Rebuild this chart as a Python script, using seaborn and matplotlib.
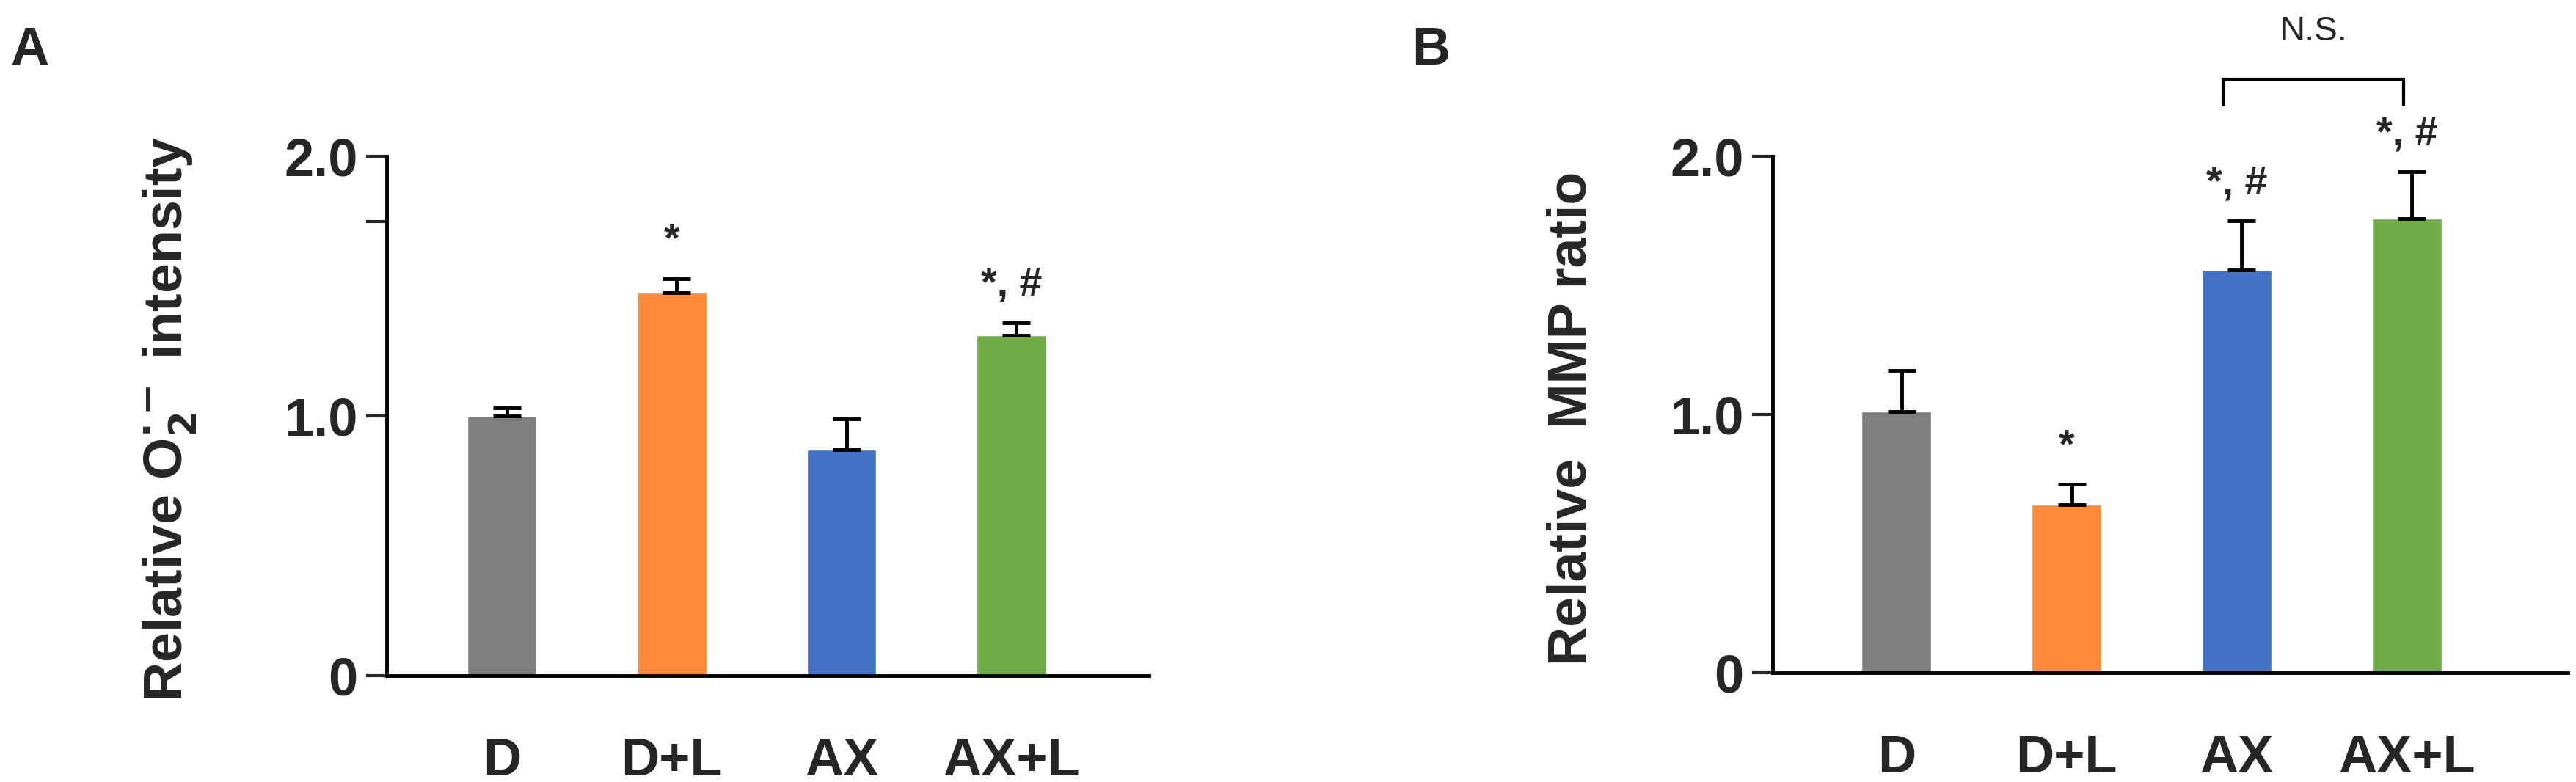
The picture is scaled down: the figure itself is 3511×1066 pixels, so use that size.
import matplotlib
matplotlib.use("Agg")
import matplotlib.pyplot as plt
import seaborn as sns
import pandas as pd
from matplotlib import font_manager

categories = ["D", "D+L", "AX", "AX+L"]
colors = ["#7f7f7f", "#ff8a3a", "#4472c4", "#70ad47"]
a_values = [1.00, 1.475, 0.87, 1.31]
a_errors = [0.03, 0.055, 0.12, 0.05]
a_marks = ["", "*", "", "*, #"]
b_values = [1.01, 0.65, 1.56, 1.76]
b_errors = [0.16, 0.08, 0.19, 0.18]
b_marks = ["", "*", "*, #", "*, #"]

sns.set_style("white")
names = {f.name for f in font_manager.fontManager.ttflist}
narrow = "Liberation Sans Narrow" if "Liberation Sans Narrow" in names else "Liberation Sans"
plt.rcParams["font.family"] = ["Liberation Sans", "DejaVu Sans"]
plt.rcParams["mathtext.default"] = "bf"

fig = plt.figure(figsize=(35.11, 10.66), dpi=100)
axA = fig.add_axes([0.150, 0.136, 0.296, 0.664])
axB = fig.add_axes([0.688, 0.140, 0.309, 0.660])

def draw(ax, vals, errs, marks, xlim, extra_tick=None):
    df = pd.DataFrame({"g": categories, "v": vals})
    sns.barplot(data=df, x="g", y="v", hue="g", palette=colors, width=0.41,
                ax=ax, legend=False, saturation=1)
    for i, (v, e) in enumerate(zip(vals, errs)):
        ax.errorbar(i + 0.03, v, yerr=[[0], [e]], fmt="none", ecolor="black",
                    elinewidth=3.5, capsize=14, capthick=3.5)
        if marks[i]:
            ax.text(i, v + e + 0.07, marks[i], ha="center", va="bottom",
                    fontsize=40, fontweight="bold", family=narrow)
    ax.set_xlim(*xlim)
    ax.set_ylim(0, 2.0)
    ax.set_yticks([0, 1.0, 2.0])
    ax.set_yticklabels(["0", "1.0", "2.0"], fontsize=52, fontweight="bold", family=narrow)
    if extra_tick is not None:
        ax.set_yticks([extra_tick], minor=True)
        ax.tick_params(axis="y", which="minor", length=20, width=3, direction="out", left=True)
    ax.tick_params(axis="y", which="major", length=20, width=3, direction="out", left=True, pad=8)
    ax.tick_params(axis="x", length=0, pad=60)
    for lab in ax.get_xticklabels():
        lab.set_fontsize(52); lab.set_fontweight("bold"); lab.set_family(narrow)
    ax.set_xlabel(""); ax.set_ylabel("")
    sns.despine(ax=ax)
    for s in ["left", "bottom"]:
        ax.spines[s].set_linewidth(3.5); ax.spines[s].set_color("black")

draw(axA, a_values, a_errors, a_marks, (-0.68, 3.81), extra_tick=1.75)
draw(axB, b_values, b_errors, b_marks, (-0.73, 3.95))

fig.text(0.066, 0.465, r"Relative O$_2^{\cdot-}$ intensity", rotation=90, ha="center",
         va="center", fontsize=53, fontweight="bold")
fig.text(0.610, 0.465, "Relative  MMP ratio", rotation=90, ha="center",
         va="center", fontsize=53, fontweight="bold")
fig.text(0.004, 0.935, "A", fontsize=52, fontweight="bold", family=narrow, va="center")
fig.text(0.548, 0.935, "B", fontsize=52, fontweight="bold", va="center")

# N.S. bracket
x1, x2 = 1.92, 2.98
axB.plot([x1, x1, x2, x2], [2.2, 2.3, 2.3, 2.2], color="black", lw=3, clip_on=False)
axB.text((x1 + x2) / 2, 2.42, "N.S.", ha="center", va="bottom", fontsize=34, family=narrow)

fig.savefig("out.png", dpi=100)
